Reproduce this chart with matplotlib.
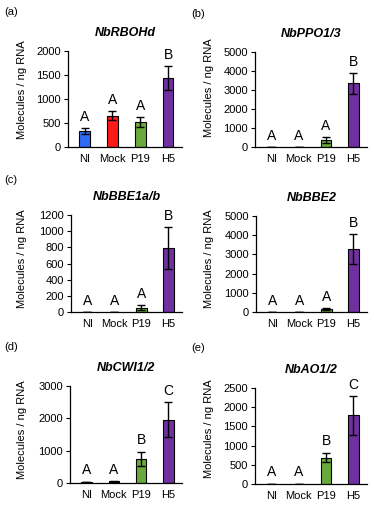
import matplotlib
matplotlib.use("Agg")
import matplotlib.pyplot as plt
import numpy as np

plt.rcParams["font.family"] = ["Liberation Sans", "DejaVu Sans"]

groups = ["NI", "Mock", "P19", "H5"]
colors = ["#2f6bf5", "#ff1a1a", "#6aaa3c", "#7030a0"]

genes = ["NbRBOHd", "NbPPO1/3", "NbBBE1a/b", "NbBBE2", "NbCWI1/2", "NbAO1/2"]
panel_tags = ["(a)", "(b)", "(c)", "", "(d)", "(e)"]

means_rbohd = [340, 650, 525, 1440]
sd_rbohd = [60, 95, 105, 245]
means_ppo = [8, 8, 370, 3350]
sd_ppo = [4, 4, 140, 560]
means_bbe1 = [2, 2, 55, 790]
sd_bbe1 = [1, 1, 30, 258]
means_bbe2 = [8, 8, 170, 3280]
sd_bbe2 = [4, 4, 50, 790]
means_cwi = [30, 50, 750, 1960]
sd_cwi = [12, 15, 220, 540]
means_ao = [8, 8, 690, 1790]
sd_ao = [4, 4, 130, 510]

letters_rbohd = ["A", "A", "A", "B"]
letters_ppo = ["A", "A", "A", "B"]
letters_bbe1 = ["A", "A", "A", "B"]
letters_bbe2 = ["A", "A", "A", "B"]
letters_cwi = ["A", "A", "B", "C"]
letters_ao = ["A", "A", "B", "C"]

all_means = [means_rbohd, means_ppo, means_bbe1, means_bbe2, means_cwi, means_ao]
all_sd = [sd_rbohd, sd_ppo, sd_bbe1, sd_bbe2, sd_cwi, sd_ao]
all_letters = [letters_rbohd, letters_ppo, letters_bbe1, letters_bbe2,
               letters_cwi, letters_ao]
ymax = [2000, 5000, 1200, 5000, 3000, 2500]
ystep = [500, 1000, 200, 1000, 1000, 500]

W, H = 374, 511
# axes boxes in pixels: left, right, top, bottom
boxes = [(68, 182, 51, 147), (255, 367, 52, 147),
         (71, 182, 215, 312), (256, 367, 216, 312),
         (70, 182, 386, 483), (255, 367, 388, 484)]
tag_pos = [(4, 12), (191, 14), (4, 180), (0, 0), (4, 347), (191, 348)]
ylab_pos = [(22, 90), (209, 88), (22, 259), (209, 259), (22, 430), (209, 429)]

fig = plt.figure(figsize=(W / 100, H / 100), dpi=100)

for i in range(6):
    l, r, t, b = boxes[i]
    ax = fig.add_axes([l / W, 1 - b / H, (r - l) / W, (b - t) / H])
    x = np.arange(len(groups))
    cols = colors if i == 0 else ["#000000", "#000000", colors[2], colors[3]]
    ax.bar(x, all_means[i], width=0.38, color=cols, edgecolor="black",
           linewidth=0.8, zorder=2)
    ax.errorbar(x, all_means[i], yerr=all_sd[i], fmt="none", ecolor="black",
                elinewidth=1, capsize=3, capthick=1, zorder=3)
    for xi, m, s, lt in zip(x, all_means[i], all_sd[i], all_letters[i]):
        ax.annotate(lt, (xi, m + s), xytext=(0, 3), textcoords="offset points",
                    ha="center", va="bottom", fontsize=10)
    ax.set_xlim(-0.6, 3.5)
    ax.set_ylim(0, ymax[i])
    ax.set_yticks(np.arange(0, ymax[i] + 1, ystep[i]))
    ax.set_xticks(x)
    ax.set_xticklabels(groups)
    ax.tick_params(axis="x", length=0, pad=5, labelsize=8)
    ax.tick_params(axis="y", length=3, width=0.8, pad=2, labelsize=8)
    for sp in ["top", "right"]:
        ax.spines[sp].set_visible(False)
    for sp in ["left", "bottom"]:
        ax.spines[sp].set_linewidth(0.9)
    ax.set_title(genes[i], fontsize=9, fontweight="bold", style="italic", pad=11)
    if panel_tags[i]:
        fig.text(tag_pos[i][0] / W, 1 - tag_pos[i][1] / H, panel_tags[i],
                 fontsize=8, ha="left", va="center")
    fig.text(ylab_pos[i][0] / W, 1 - ylab_pos[i][1] / H, "Molecules / ng RNA",
             rotation=90, fontsize=8, ha="center", va="center")

fig.savefig("out.png", dpi=100)
